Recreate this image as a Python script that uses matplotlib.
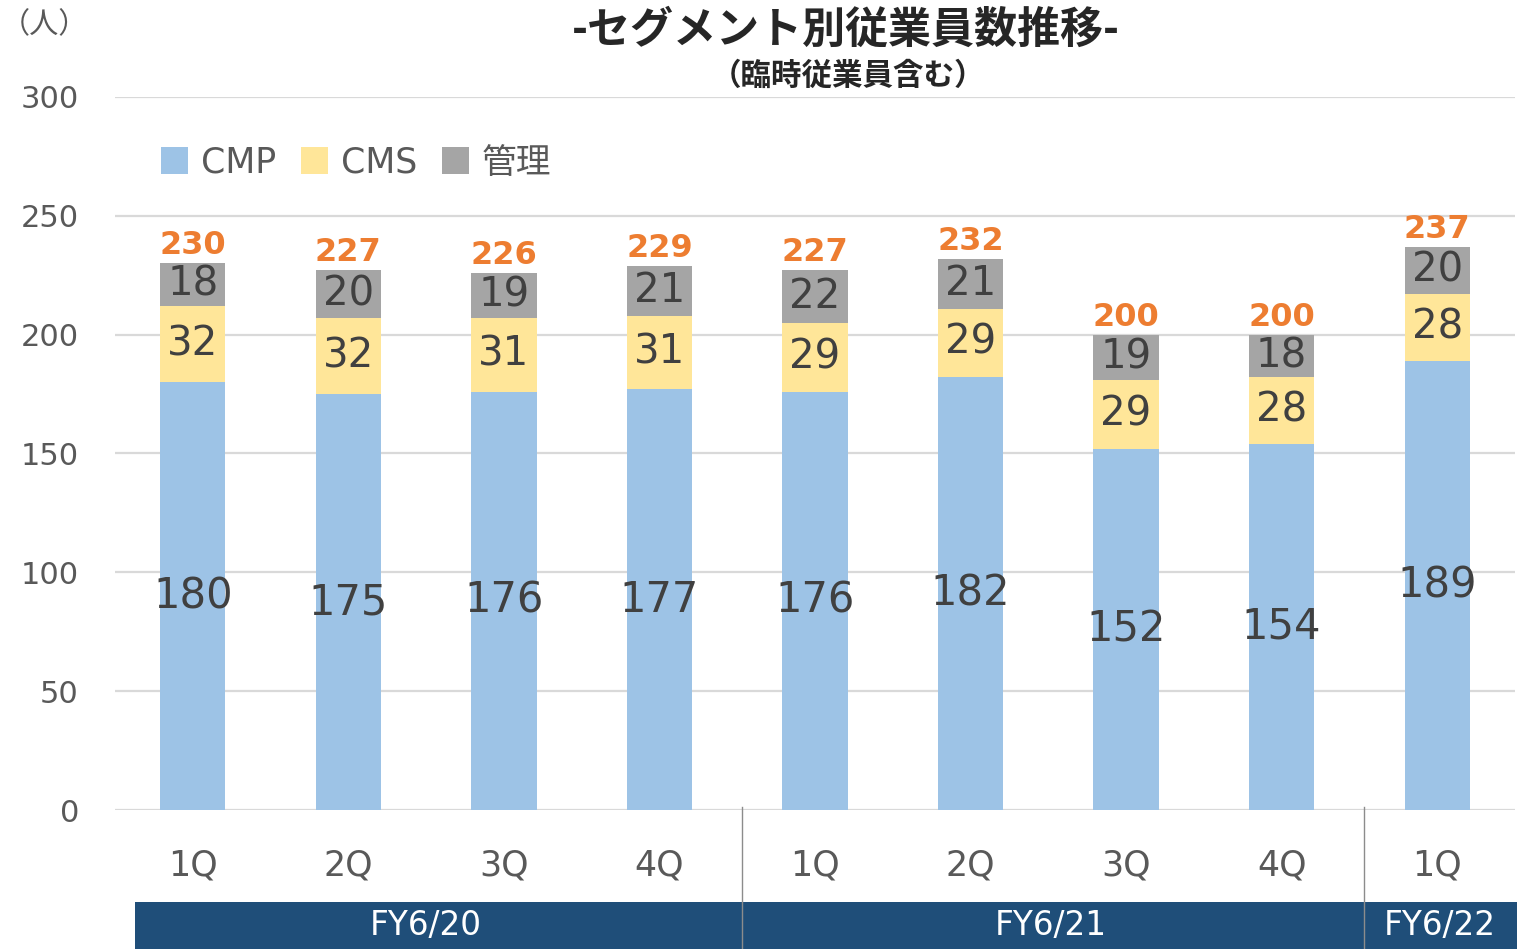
import matplotlib
matplotlib.use("Agg")
import matplotlib.pyplot as plt
from matplotlib.patches import Rectangle
from matplotlib.transforms import blended_transform_factory
import numpy as np

plt.rcParams['font.family'] = ['DejaVu Sans', 'Noto Sans CJK JP']

# ---- data ----
quarters = ["1Q", "2Q", "3Q", "4Q", "1Q", "2Q", "3Q", "4Q", "1Q"]
fiscal_years = ["FY6/20", "FY6/21", "FY6/22"]
fy_spans = [(0, 3), (4, 7), (8, 8)]
cmp_vals = [180, 175, 176, 177, 176, 182, 152, 154, 189]
cms_vals = [32, 32, 31, 31, 29, 29, 29, 28, 28]
mgmt_vals = [18, 20, 19, 21, 22, 21, 19, 18, 20]
totals = [230, 227, 226, 229, 227, 232, 200, 200, 237]
series_names = ["CMP", "CMS", "管理"]
yticks = [0, 50, 100, 150, 200, 250, 300]

title = "-セグメント別従業員数推移-"
subtitle = "（臨時従業員含む）"
unit = "（人）"

# ---- styles ----
c_cmp = "#9DC3E6"
c_cms = "#FFE699"
c_mgmt = "#A5A5A5"
c_total = "#ED7D31"
c_lbl = "#404040"
c_tick = "#595959"
c_grid = "#D9D9D9"
c_band = "#1F4E79"

W, H = 1517, 949
fig = plt.figure(figsize=(W / 100, H / 100), dpi=100)
ax = fig.add_axes([115 / W, 1 - 810 / H, 1400 / W, 713 / H])

x = np.arange(len(quarters))
bw = 0.42
b1 = ax.bar(x, cmp_vals, bw, color=c_cmp, label=series_names[0], zorder=3)
bottom2 = np.array(cmp_vals)
b2 = ax.bar(x, cms_vals, bw, bottom=bottom2, color=c_cms, label=series_names[1], zorder=3)
bottom3 = bottom2 + np.array(cms_vals)
b3 = ax.bar(x, mgmt_vals, bw, bottom=bottom3, color=c_mgmt, label=series_names[2], zorder=3)

ax.bar_label(b1, labels=[str(v) for v in cmp_vals], label_type='center', fontsize=30, color=c_lbl, zorder=4)
ax.bar_label(b2, labels=[str(v) for v in cms_vals], label_type='center', fontsize=29, color=c_lbl, zorder=4)
ax.bar_label(b3, labels=[str(v) for v in mgmt_vals], label_type='center', fontsize=29, color=c_lbl, zorder=4)
for xi, t in zip(x, totals):
    ax.annotate(str(t), (xi, t), xytext=(0, 1.5), textcoords='offset points',
                ha='center', va='bottom', fontsize=23, fontweight='bold', color=c_total, zorder=4)

ax.set_xlim(-0.5, len(quarters) - 0.5)
ax.set_ylim(0, 300)
ax.set_yticks(yticks)
ax.set_yticklabels([str(v) for v in yticks])
ax.tick_params(axis='y', length=0, pad=26, labelsize=22, labelcolor=c_tick)
ax.set_xticks([])
ax.grid(axis='y', color=c_grid, linewidth=1.6, zorder=0)
for s in ax.spines.values():
    s.set_visible(False)
ax.axhline(0, color=c_grid, linewidth=2, zorder=2)

# legend
leg = ax.legend(loc='center left', bbox_to_anchor=(0.033, 0.908), ncol=3, frameon=False,
                fontsize=25, handlelength=0.78, handleheight=0.78, handletextpad=0.38,
                columnspacing=0.7, borderpad=0, borderaxespad=0)
for t in leg.get_texts():
    t.set_color(c_tick)

# quarter labels
trq = blended_transform_factory(ax.transData, fig.transFigure)
for xi, q in zip(x, quarters):
    fig.text(xi, 1 - 865 / H, q, transform=trq, ha='center', va='center', fontsize=25, color=c_tick)

# fiscal year band
band_left = -0.37
band_right = len(quarters) - 0.49
band_top = 1 - 902 / H
fig.patches.append(Rectangle((band_left, 0), band_right - band_left, band_top,
                             transform=trq, facecolor=c_band, edgecolor='none', zorder=1))
for i, ((s, e), fy) in enumerate(zip(fy_spans, fiscal_years)):
    lo = s - 0.5 if i == 0 else s - 0.47
    hi = min(e + 0.5, band_right)
    fig.text((lo + hi) / 2, band_top / 2, fy, transform=trq, ha='center', va='center',
             fontsize=23.5, color='white', zorder=3)
for s, e in fy_spans[1:]:
    fig.add_artist(plt.Line2D([s - 0.47, s - 0.47], [0, 1 - 807 / H], transform=trq,
                              color="#8C8C8C", linewidth=1, zorder=2))

# titles
fig.text(846 / W, 1 - 30 / H, title, ha='center', va='center', fontsize=31, fontweight='bold',
         color="#262626", family=['Noto Sans CJK JP', 'DejaVu Sans'])
fig.text(848 / W, 1 - 76 / H, subtitle, ha='center', va='center', fontsize=22, fontweight='bold',
         color="#262626", family=['Noto Sans CJK JP', 'DejaVu Sans'])
fig.text(1 / W, 1 - 25 / H, unit, ha='left', va='center', fontsize=21, color=c_tick,
         family=['Noto Sans CJK JP', 'DejaVu Sans'])

fig.savefig("out.png", dpi=100)
